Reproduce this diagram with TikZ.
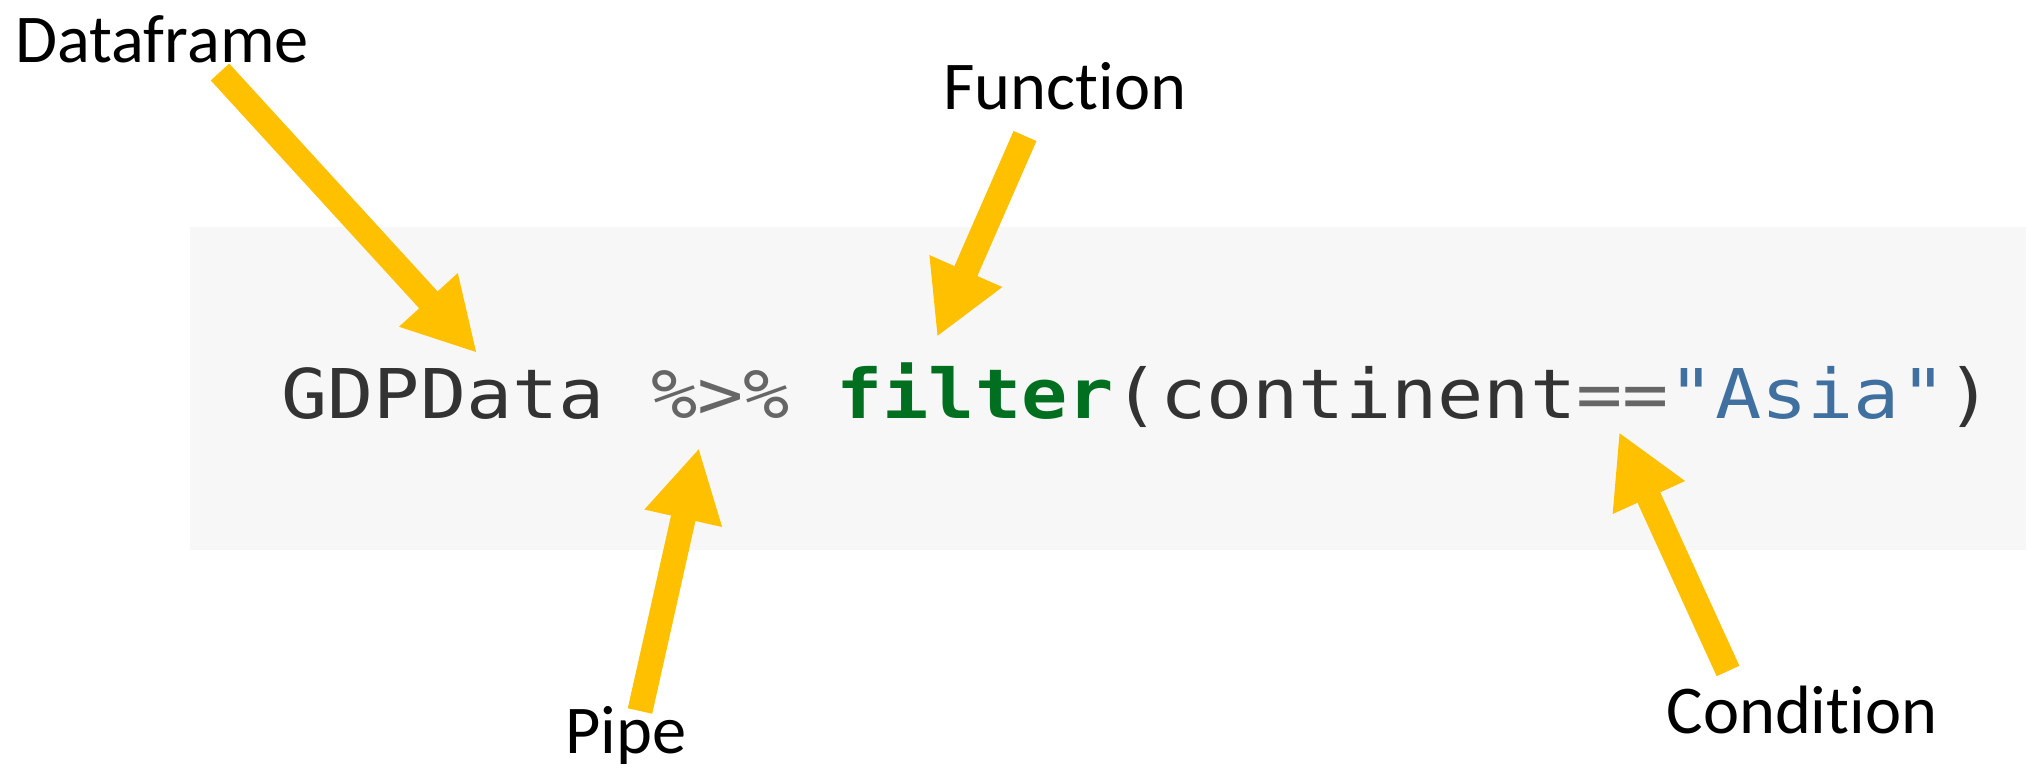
\documentclass[tikz,border=0pt]{standalone}
\usepackage{fontspec}
\usepackage{tikz}
\usetikzlibrary{arrows.meta}
\newfontfamily\labfont[Ligatures={NoCommon,NoRare,NoContextual}]{Carlito}
\newfontfamily\codefont[FakeStretch=1.12]{DejaVu Sans Mono}
\definecolor{codebg}{HTML}{F7F7F7}
\definecolor{codetxt}{HTML}{333333}
\definecolor{codeop}{HTML}{666666}
\definecolor{codefn}{HTML}{007020}
\definecolor{codestr}{HTML}{4070A0}
\definecolor{gold}{HTML}{FFC000}
\tikzset{lab/.style={font=\labfont\fontsize{34.2}{40}\selectfont,inner sep=0pt,anchor=base}}
\tikzset{code/.style={font=\codefont\fontsize{34.3}{40}\selectfont,inner sep=0pt,anchor=base,text=codetxt}}
\tikzset{ptr/.style={draw=gold,line width=12.5pt,-{Triangle[length=36pt,width=37pt]},fill=gold}}

\begin{document}
\begin{tikzpicture}[x=0.5pt,y=-0.5pt]
        \useasboundingbox (0,0) rectangle (2044,777);
        \fill[codebg] (190,227) rectangle (2026,550);
        \node[code] (src) at (1137,418) {GDPData {\color{codeop}\%>\%} {\color{codefn}\bfseries filter}(continent{\color{codeop}==}{\color{codestr}"Asia"})};
        % labels (kern keeps t and i apart)
        \node[lab] (df) at (162,62) {Dataframe};
        \node[lab] (fn) at (1065,109) {Funct\kern0pt ion};
        \node[lab] (pipe) at (626,753) {Pipe};
        \node[lab] (cond) at (1802,733) {Condit\kern0pt ion};
        % arrow ends
        \coordinate (dfa) at (220,72);   \coordinate (dfb) at (477,353);
        \coordinate (fna) at (1025,136); \coordinate (fnb) at (937,337);
        \coordinate (pipea) at (640,711); \coordinate (pipeb) at (699,448);
        \coordinate (conda) at (1728,671); \coordinate (condb) at (1619,432);
        \foreach \n in {df,fn,pipe,cond}
          \draw[ptr] (\n a) -- (\n b);
      \end{tikzpicture}
\end{document}
